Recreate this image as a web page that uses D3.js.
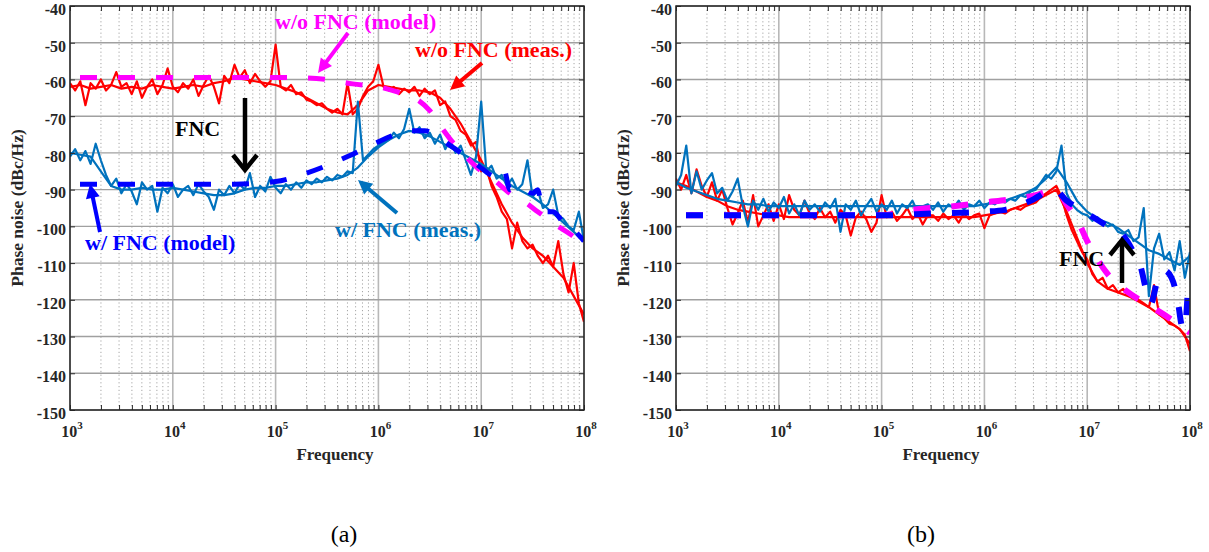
<!DOCTYPE html>
<html>
<head>
<meta charset="utf-8">
<script src="https://cdn.jsdelivr.net/npm/d3@7"></script>
<style>
    body { margin: 0; background: #fff; }
    svg { display: block; font-family: "Liberation Serif", "Times New Roman", serif; }
</style>
</head>
<body>
<svg id="fig" width="1209" height="552"></svg>
<script>
// frequency grids, as log10(Hz)
const expFine = [
    3.00, 3.05, 3.10, 3.15, 3.20, 3.25, 3.30, 3.35, 3.40, 3.45,
    3.50, 3.55, 3.60, 3.65, 3.70, 3.75, 3.80, 3.85, 3.90, 3.95,
    4.00, 4.05, 4.10, 4.15, 4.20, 4.25, 4.30, 4.35, 4.40, 4.45,
    4.50, 4.55, 4.60, 4.65, 4.70, 4.75, 4.80, 4.85, 4.90, 4.95,
    5.00, 5.05, 5.10, 5.15, 5.20, 5.25, 5.30, 5.35, 5.40, 5.45,
    5.50, 5.55, 5.60, 5.65, 5.70, 5.75, 5.80, 5.85, 5.90, 5.95,
    6.00, 6.05, 6.10, 6.15, 6.20, 6.25, 6.30, 6.35, 6.40, 6.45,
    6.50, 6.55, 6.60, 6.65, 6.70, 6.75, 6.80, 6.85, 6.90, 6.95,
    7.00, 7.05, 7.10, 7.15, 7.20, 7.25, 7.30, 7.35, 7.40, 7.45,
    7.50, 7.55, 7.60, 7.65, 7.70, 7.75, 7.80, 7.85, 7.90, 7.95,
    8.00];
const expCoarse = [
    3.0, 3.1, 3.2, 3.3, 3.4, 3.5, 3.6, 3.7, 3.8, 3.9,
    4.0, 4.1, 4.2, 4.3, 4.4, 4.5, 4.6, 4.7, 4.8, 4.9,
    5.0, 5.1, 5.2, 5.3, 5.4, 5.5, 5.6, 5.7, 5.8, 5.9,
    6.0, 6.1, 6.2, 6.3, 6.4, 6.5, 6.6, 6.7, 6.8, 6.9,
    7.0, 7.1, 7.2, 7.3, 7.4, 7.5, 7.6, 7.7, 7.8, 7.9,
    8.0];

const yTicks = [-40, -50, -60, -70, -80, -90, -100, -110, -120, -130, -140, -150];
const decades = [3, 4, 5, 6, 7, 8];

// ---- panel (a) ----
const redMeasA = [
    -61, -63, -60.5, -67, -61, -62.5, -60, -63, -61.5, -58,
    -62, -61, -64, -60.5, -65, -62, -60, -64, -61.5, -57,
    -62, -63.5, -61, -62.5, -60, -64.5, -61.5, -59, -62, -66.5,
    -59, -61, -56, -59.5, -57.5, -61, -58.5, -60.5, -62, -60.5,
    -50.5, -62, -63, -61.5, -64, -63.5, -65.5, -66, -67, -66.5,
    -68, -69, -68, -69.5, -61, -69.5, -68, -64.5, -62, -60.5,
    -56, -62, -63, -62, -64, -62.5, -63.5, -62, -64.5, -62.5,
    -64, -63, -67, -66, -70, -71, -74, -75, -78, -77,
    -85, -84, -89, -92, -96, -98, -106, -99, -104, -106,
    -105, -108, -110, -108, -111, -104, -113, -118, -110, -121,
    -126];
const redMeasA2 = [
    -62, -61.5, -62.5, -62, -61.5, -62.5, -62, -62.5, -61.5, -62,
    -62.5, -62, -61.5, -62, -61, -60.5, -59.5, -60, -60.5, -61,
    -61.5, -62.5, -63.5, -65, -66.5, -68, -69, -69.5, -67, -63,
    -61.5, -62, -62.5, -63, -63, -63.5, -65, -68, -72, -77,
    -82, -88, -94, -99, -103, -106, -108, -111, -114, -119,
    -124];
const blueMeasA = [
    -81, -79, -82, -79.5, -83, -77.5, -82, -86, -89, -87,
    -91, -88.5, -90.5, -94, -88, -90, -89, -96, -89.5, -91,
    -88.5, -92, -90, -89, -91.5, -88.5, -90.5, -92, -95.5, -90,
    -91.5, -89, -91, -88.5, -90, -85.5, -92, -89, -90.5, -86.5,
    -89.5, -91, -88.5, -90, -88, -89.5, -87.5, -88.5, -87, -88,
    -86.5, -87.5, -86, -86.5, -85, -85.5, -66, -82, -80.5, -79,
    -78, -77, -76.5, -74.5, -76, -73.5, -68, -74.5, -73, -76,
    -74.5, -77.5, -75, -79, -76.5, -80, -78, -82, -86, -81,
    -66, -85, -83.5, -87, -86, -89, -87, -90, -88.5, -82,
    -92, -90, -95, -94, -90, -97, -98, -100, -101, -96,
    -104];
const blueMeasA2 = [
    -80, -80.5, -81, -85, -89, -90, -90, -89.5, -90, -90,
    -89.5, -90, -90.5, -91, -91.5, -91.5, -91, -90, -89.5, -89.5,
    -89, -89, -88.5, -88, -88, -87.5, -87, -86, -84, -81,
    -78.5, -76.5, -75, -74, -74.5, -75.5, -77, -78.5, -80, -81.5,
    -83, -85, -87, -89, -90.5, -92, -94, -96.5, -99, -101.5,
    -104];
// model curves: [log10 f, dBc/Hz]
const magModelA = [
    [3.0, -59.5], [5.2, -59.5], [5.5, -60], [5.75, -61.2], [6.0, -62], [6.2, -63.5],
    [6.35, -65], [6.5, -68.5], [6.6, -72.5], [6.72, -77], [6.85, -81], [6.96, -84],
    [7.13, -87.5], [7.28, -91], [7.43, -93.5], [7.55, -96], [7.72, -99.5], [7.86, -102],
    [8.0, -105]];
const blueModelA = [
    [3.0, -88.5], [4.6, -88.5], [5.0, -87.8], [5.3, -85.5], [5.7, -81], [6.0, -77],
    [6.3, -74], [6.45, -74], [6.7, -78], [6.95, -83], [7.15, -86.5], [7.22, -84.5],
    [7.28, -90], [7.35, -89], [7.5, -91], [7.55, -90], [7.6, -96], [7.7, -96],
    [7.8, -99], [7.9, -101], [8.0, -104]];

// ---- panel (b) ----
const redMeasB = [
    -87, -90, -86, -91, -84.5, -89, -92, -88, -93, -90,
    -95, -99.5, -96.5, -93, -99, -91.5, -100, -97, -94, -98.5,
    -94, -98, -91.5, -95.5, -97, -93, -96.5, -98, -95, -97.5,
    -96, -99, -95.5, -97, -102.5, -97.5, -96, -98, -101.5, -99,
    -91.5, -97.5, -96, -98.5, -97, -95, -98, -96.5, -99.5, -97,
    -97, -98.5, -96.5, -98, -97, -99, -96.5, -98, -97, -96.5,
    -100.5, -97, -96.5, -96, -96.5, -95.5, -95, -95.5, -94.5, -94,
    -93.5, -92, -91, -90, -89, -92, -97, -101, -104, -107,
    -109, -113, -115, -114, -117, -116, -118, -117, -119, -118.5,
    -120, -121, -122, -116, -124, -125, -126.5, -127, -128, -129.5,
    -134];
const redMeasB2 = [
    -88, -89, -90.5, -92, -93, -94.5, -95.5, -96, -96.5, -97,
    -97, -97.5, -97.5, -97.5, -97.5, -97.5, -97.5, -97.5, -97.5, -97.5,
    -97.5, -97.5, -97.5, -97.5, -97.5, -97.5, -97.5, -97.5, -97.5, -97.5,
    -97, -96.5, -96, -95, -94, -93, -91.5, -90, -96, -103,
    -110, -115, -117, -118, -119, -120.5, -122, -124, -126, -128,
    -132];
const blueMeasB = [
    -89, -86, -78, -91, -85, -90, -87.5, -85.5, -91, -89.5,
    -93, -90.5, -87, -94.5, -100, -93, -95.5, -92.5, -96, -93.5,
    -95, -92, -96.5, -94, -97, -93, -95.5, -94, -96, -93.5,
    -95, -92.5, -101.5, -94, -95.5, -93, -97, -94.5, -92.5, -96,
    -94, -95.5, -93, -96.5, -94, -95, -93, -96, -94.5, -94,
    -95.5, -93.5, -96, -94, -95, -93, -95.5, -94, -94.5, -93,
    -95, -93.5, -94, -93, -93.5, -92.5, -93, -91.5, -92, -90.5,
    -90, -88, -86, -87, -85, -78, -91, -94, -95.5, -96.5,
    -97, -98.5, -97.5, -99, -100, -99.5, -101.5, -102, -101, -104,
    -103, -95, -119, -106, -102, -109, -107, -112, -104, -114,
    -107];
const blueMeasB2 = [
    -88, -89.5, -90.5, -91.5, -92.5, -93, -93.5, -94, -94, -94.5,
    -94.5, -94.5, -94.5, -94.5, -94.5, -94.5, -94.5, -94.5, -94.5, -94.5,
    -94.5, -94.5, -94.5, -94.5, -94.5, -94.5, -94.5, -94.5, -94.5, -94.5,
    -94, -93.5, -93, -92, -91, -89.5, -87, -84, -88, -93,
    -96, -98, -99, -100.5, -102.5, -104.5, -106.5, -107.5, -109, -110.5,
    -108];
const magModelB = [
    [3.0, -97], [5.0, -97], [5.3, -95.5], [5.7, -94.5], [6.0, -93.5], [6.3, -92.5],
    [6.5, -91.5], [6.65, -90.3], [6.72, -90.5], [6.8, -94], [6.9, -98], [7.0, -104],
    [7.1, -109], [7.2, -113], [7.4, -118], [7.6, -121.5], [7.8, -125], [8.0, -129]];
const blueModelB = [
    [3.0, -97], [5.0, -97], [5.5, -96.5], [6.0, -96], [6.2, -95.5], [6.45, -93],
    [6.68, -90], [6.8, -93], [7.0, -96.5], [7.2, -100], [7.35, -102.5], [7.45, -107],
    [7.52, -111], [7.58, -118], [7.62, -121], [7.68, -115], [7.75, -112], [7.82, -114],
    [7.88, -120], [7.92, -127], [7.95, -128], [7.98, -118], [8.0, -115]];


class PhasePlot {
    constructor(_config, _series, _notes) {
        this.config = {
            svg: _config.svg,
            left: _config.left,
            top: _config.top,
            width: _config.width,
            height: _config.height,
            label: _config.label,
            labelX: _config.labelX,
            titleX: _config.titleX,
            dashWidth: _config.dashWidth || 5
        }
        this.series = _series;
        this.notes = _notes;
        this.initVis();
    }

    initVis() {
        let vis = this;
        let c = vis.config;
        vis.xScale = d3.scaleLog().domain([1e3, 1e8]).range([0, c.width]);
        vis.yScale = d3.scaleLinear().domain([-150, -40]).range([c.height, 0]);

        vis.chart = c.svg.append('g')
            .attr('transform', `translate(${c.left},${c.top})`);

        // minor / major grid
        let minor = [];
        decades.slice(0, -1).forEach(d => {
            for (let k = 2; k <= 9; k++) minor.push(k * Math.pow(10, d));
        });
        let majorX = decades.map(d => Math.pow(10, d));

        vis.chart.append('g').selectAll('line')
            .data(minor).enter().append('line')
            .attr('x1', d => vis.xScale(d)).attr('x2', d => vis.xScale(d))
            .attr('y1', 0).attr('y2', c.height)
            .attr('stroke', '#a6a6a6').attr('stroke-width', 1)
            .attr('stroke-dasharray', '1.2,2.6');
        vis.chart.append('g').selectAll('line')
            .data(majorX).enter().append('line')
            .attr('x1', d => vis.xScale(d)).attr('x2', d => vis.xScale(d))
            .attr('y1', 0).attr('y2', c.height)
            .attr('stroke', '#b8b8b8').attr('stroke-width', 1.6);
        vis.chart.append('g').selectAll('line')
            .data(yTicks).enter().append('line')
            .attr('x1', 0).attr('x2', c.width)
            .attr('y1', d => vis.yScale(d)).attr('y2', d => vis.yScale(d))
            .attr('stroke', '#a0a0a0').attr('stroke-width', 1.4);

        vis.chart.append('clipPath').attr('id', 'clip' + c.label)
            .append('rect').attr('width', c.width).attr('height', c.height);
        vis.plotG = vis.chart.append('g').attr('clip-path', `url(#clip${c.label})`);

        vis.updateVis();
    }

    updateVis() {
        let vis = this;
        let c = vis.config;

        let line = d3.line()
            .x(d => vis.xScale(Math.pow(10, d[0])))
            .y(d => vis.yScale(d[1]));
        let smooth = d3.line()
            .curve(d3.curveMonotoneX)
            .x(d => vis.xScale(Math.pow(10, d[0])))
            .y(d => vis.yScale(d[1]));

        vis.series.forEach(s => {
            let pts = s.model ? s.values : s.values.map((v, i) => [s.exps[i], v]);
            let p = vis.plotG.append('path')
                .datum(pts)
                .attr('fill', 'none')
                .attr('stroke', s.color)
                .attr('stroke-linejoin', 'round')
                .attr('d', s.model ? smooth : line);
            if (s.model) {
                p.attr('stroke-width', c.dashWidth)
                    .attr('stroke-dasharray', '17,21')
                    .attr('stroke-dashoffset', 28);
            } else {
                p.attr('stroke-width', s.width || 2.2);
            }
        });

        // axes with inward ticks
        let tickX = [];
        decades.forEach((d, i) => {
            tickX.push(Math.pow(10, d));
            if (i < decades.length - 1) for (let k = 2; k <= 9; k++) tickX.push(k * Math.pow(10, d));
        });
        let axes = [
            d3.axisBottom(vis.xScale).tickValues(tickX).tickSize(-5).tickFormat(''),
            d3.axisTop(vis.xScale).tickValues(tickX).tickSize(-5).tickFormat(''),
            d3.axisLeft(vis.yScale).tickValues(yTicks).tickSize(-5).tickFormat(''),
            d3.axisRight(vis.yScale).tickValues(yTicks).tickSize(-5).tickFormat('')
        ];
        let shifts = [`translate(0,${c.height})`, 'translate(0,0)', 'translate(0,0)', `translate(${c.width},0)`];
        axes.forEach((ax, i) => {
            let g = vis.chart.append('g').attr('transform', shifts[i]).call(ax);
            g.select('.domain').remove();
            g.selectAll('line').attr('stroke', '#2b2b2b').attr('stroke-width', 1);
        });
        vis.chart.append('rect')
            .attr('width', c.width).attr('height', c.height)
            .attr('fill', 'none').attr('stroke', '#262626').attr('stroke-width', 1.5);

        // tick labels
        vis.chart.append('g').selectAll('text')
            .data(yTicks).enter().append('text')
            .attr('x', -4).attr('y', d => vis.yScale(d)).attr('dy', '0.55em')
            .attr('text-anchor', 'end')
            .attr('font-size', 16).attr('font-weight', 'bold').attr('fill', '#262626')
            .text(d => d);
        let xl = vis.chart.append('g').selectAll('text')
            .data(decades).enter().append('text')
            .attr('x', d => vis.xScale(Math.pow(10, d)) + 2).attr('y', c.height + 27)
            .attr('text-anchor', 'middle')
            .attr('font-size', 16).attr('font-weight', 'bold').attr('fill', '#262626');
        xl.append('tspan').text('10');
        xl.append('tspan').attr('dy', -8).attr('font-size', 11).text(d => d);

        vis.chart.append('text')
            .attr('x', c.titleX).attr('y', c.height + 50)
            .attr('text-anchor', 'middle')
            .attr('font-size', 17).attr('font-weight', 'bold').attr('fill', '#262626')
            .text('Frequency');
        vis.chart.append('text')
            .attr('transform', `translate(-47,${c.height / 2}) rotate(-90)`)
            .attr('text-anchor', 'middle')
            .attr('font-size', 17.5).attr('font-weight', 'bold').attr('fill', '#262626')
            .text('Phase noise (dBc/Hz)');

        c.svg.append('text')
            .attr('x', c.labelX).attr('y', 542)
            .attr('text-anchor', 'middle')
            .attr('font-size', 24)
            .text(`(${c.label})`);

        vis.drawNotes();
    }

    drawNotes() {
        let vis = this;
        let svg = vis.config.svg;
        vis.notes.texts.forEach(t => {
            svg.append('text')
                .attr('x', t.x).attr('y', t.y)
                .attr('font-size', 22).attr('font-weight', 'bold')
                .attr('fill', t.color)
                .text(t.text);
        });
        vis.notes.arrows.forEach(a => {
            let dx = a.x2 - a.x1, dy = a.y2 - a.y1;
            let len = Math.sqrt(dx * dx + dy * dy);
            let ux = dx / len, uy = dy / len;
            let hl = a.open ? 15 : 14, hw = a.open ? 12 : 7;
            let bx = a.x2 - ux * hl, by = a.y2 - uy * hl;
            svg.append('line')
                .attr('x1', a.x1).attr('y1', a.y1)
                .attr('x2', a.open ? a.x2 : bx + ux * 2).attr('y2', a.open ? a.y2 : by + uy * 2)
                .attr('stroke', a.color).attr('stroke-width', a.w);
            let head = [[bx - uy * hw, by + ux * hw], [a.x2, a.y2], [bx + uy * hw, by - ux * hw]];
            if (a.open) {
                svg.append('polyline')
                    .attr('points', head.map(p => p.join(',')).join(' '))
                    .attr('fill', 'none').attr('stroke', a.color)
                    .attr('stroke-width', a.w);
            } else {
                svg.append('polygon')
                    .attr('points', head.map(p => p.join(',')).join(' '))
                    .attr('fill', a.color);
            }
        });
    }
}

const svg = d3.select('#fig');

new PhasePlot(
    { svg: svg, left: 70, top: 6, width: 514, height: 404, label: 'a', labelX: 344, titleX: 265, dashWidth: 5 },
    [
        { exps: expFine, values: redMeasA, color: '#ff0000' },
        { exps: expCoarse, values: redMeasA2, color: '#ff0000' },
        { exps: expFine, values: blueMeasA, color: '#0072bd' },
        { exps: expCoarse, values: blueMeasA2, color: '#0072bd' },
        { model: true, values: magModelA, color: '#ff00ff' },
        { model: true, values: blueModelA, color: '#0000ff' }
    ],
    {
        texts: [
            { text: 'w/o FNC (model)', x: 275, y: 29, color: '#ff00ff' },
            { text: 'w/o FNC (meas.)', x: 415, y: 57, color: '#ff0000' },
            { text: 'FNC', x: 175, y: 136, color: '#000000' },
            { text: 'w/ FNC (model)', x: 85, y: 250, color: '#0000ff' },
            { text: 'w/ FNC (meas.)', x: 335, y: 237, color: '#0072bd' }
        ],
        arrows: [
            { x1: 348, y1: 33, x2: 318, y2: 73, color: '#ff00ff', w: 4 },
            { x1: 482, y1: 63, x2: 450, y2: 90, color: '#ff0000', w: 4 },
            { x1: 245, y1: 98, x2: 245, y2: 170, color: '#000000', w: 4.5, open: true },
            { x1: 100, y1: 232, x2: 90, y2: 184, color: '#0000ff', w: 4 },
            { x1: 397, y1: 213, x2: 358, y2: 180, color: '#0072bd', w: 4 }
        ]
    });

new PhasePlot(
    { svg: svg, left: 676, top: 6, width: 514, height: 404, label: 'b', labelX: 921, titleX: 265, dashWidth: 6 },
    [
        { exps: expFine, values: redMeasB, color: '#ff0000' },
        { exps: expCoarse, values: redMeasB2, color: '#ff0000' },
        { exps: expFine, values: blueMeasB, color: '#0072bd' },
        { exps: expCoarse, values: blueMeasB2, color: '#0072bd' },
        { model: true, values: magModelB, color: '#ff00ff' },
        { model: true, values: blueModelB, color: '#0000ff' }
    ],
    {
        texts: [
            { text: 'FNC', x: 1059, y: 266, color: '#000000' }
        ],
        arrows: [
            { x1: 1122, y1: 283, x2: 1122, y2: 240, color: '#000000', w: 4.5, open: true }
        ]
    });
</script>
</body>
</html>
